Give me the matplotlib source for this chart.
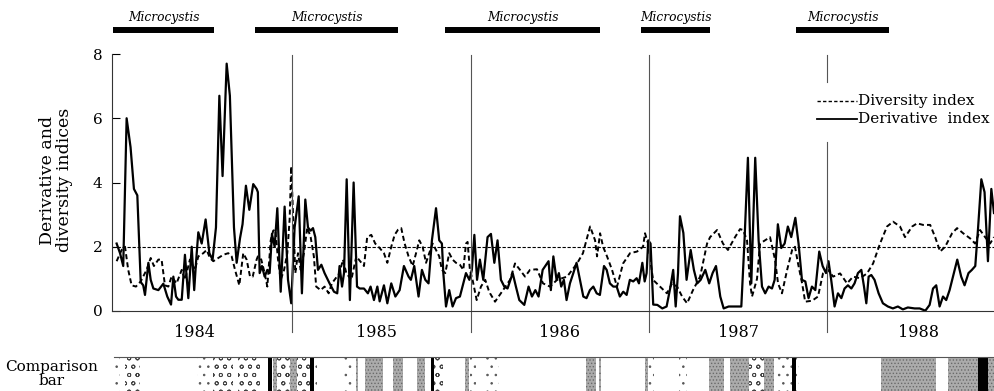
import matplotlib.pyplot as plt

plt.rcParams['font.family'] = ['DejaVu Serif']
plt.rcParams['hatch.linewidth'] = 0.6

# derivative index (solid line), sampling dates as decimal years
deriv_t = [
    1984.015, 1984.034, 1984.052, 1984.071, 1984.093, 1984.112, 1984.131, 1984.150, 1984.164, 1984.174,
    1984.193, 1984.206, 1984.221, 1984.249, 1984.277, 1984.299, 1984.320, 1984.333, 1984.348, 1984.361,
    1984.380, 1984.398, 1984.417, 1984.436, 1984.450, 1984.460, 1984.473, 1984.492, 1984.514, 1984.535,
    1984.553, 1984.572, 1984.591, 1984.609, 1984.632, 1984.650, 1984.673, 1984.688, 1984.707, 1984.721,
    1984.740, 1984.759, 1984.781, 1984.800,
    1984.807, 1984.817, 1984.830, 1984.845, 1984.860, 1984.873, 1984.886, 1984.901, 1984.916, 1984.935,
    1984.957, 1984.976, 1984.994, 1985.013, 1985.036, 1985.054, 1985.073, 1985.088, 1985.103, 1985.116,
    1985.129, 1985.144, 1985.163, 1985.181, 1985.209, 1985.234, 1985.252, 1985.265, 1985.279, 1985.290,
    1985.305, 1985.323, 1985.344, 1985.363, 1985.378, 1985.402, 1985.424, 1985.439, 1985.458, 1985.477,
    1985.490, 1985.514, 1985.533, 1985.555, 1985.578, 1985.602, 1985.626,
    1985.652, 1985.665, 1985.684, 1985.708, 1985.727, 1985.746, 1985.764, 1985.783, 1985.806, 1985.824,
    1985.839, 1985.847, 1985.862, 1985.880, 1985.899, 1985.918, 1985.940, 1985.959, 1985.974, 1985.993,
    1986.007, 1986.021, 1986.036, 1986.052, 1986.071, 1986.095, 1986.114, 1986.133, 1986.151, 1986.170,
    1986.189, 1986.207, 1986.236, 1986.254, 1986.273, 1986.301, 1986.325, 1986.344, 1986.363, 1986.381,
    1986.404, 1986.419, 1986.437, 1986.450, 1986.464,
    1986.482, 1986.495, 1986.508, 1986.523, 1986.538, 1986.557, 1986.576, 1986.594, 1986.613, 1986.632,
    1986.650, 1986.669, 1986.688, 1986.707, 1986.725, 1986.748, 1986.763, 1986.781, 1986.800, 1986.819,
    1986.837, 1986.856, 1986.875, 1986.893, 1986.912, 1986.931, 1986.944, 1986.963, 1986.976, 1986.987,
    1986.996, 1987.009, 1987.024, 1987.047, 1987.075, 1987.099, 1987.121, 1987.136, 1987.150, 1987.163,
    1987.174, 1987.193, 1987.211, 1987.234, 1987.252, 1987.271, 1987.290,
    1987.316, 1987.338, 1987.357, 1987.376, 1987.400, 1987.419, 1987.447, 1987.484, 1987.518, 1987.536,
    1987.555, 1987.574, 1987.596, 1987.615, 1987.634, 1987.652, 1987.671, 1987.690, 1987.705, 1987.723,
    1987.742, 1987.761, 1987.779, 1987.798, 1987.821, 1987.839, 1987.858, 1987.877, 1987.895, 1987.914,
    1987.933, 1987.955, 1987.974, 1987.993, 1988.007, 1988.022, 1988.041, 1988.060, 1988.079, 1988.097,
    1988.116,
    1988.135, 1988.153, 1988.172, 1988.191, 1988.206, 1988.219, 1988.232, 1988.247, 1988.265, 1988.288,
    1988.312, 1988.340, 1988.368, 1988.396, 1988.424, 1988.452, 1988.490, 1988.518, 1988.550, 1988.574,
    1988.593, 1988.611, 1988.630, 1988.649, 1988.667, 1988.686, 1988.710, 1988.729, 1988.751, 1988.770,
    1988.792, 1988.811, 1988.830, 1988.845, 1988.864, 1988.882, 1988.901, 1988.920, 1988.935,
]
deriv_v = [
    2.1, 1.8, 1.4, 6.0, 5.1, 3.8, 3.6, 0.9, 0.8, 0.5,
    1.5, 0.97, 0.7, 0.65, 0.85, 0.45, 0.2, 1.07, 0.45, 0.35,
    0.35, 1.75, 0.4, 2.0, 0.65, 1.5, 2.45, 2.1, 2.85, 1.8,
    1.6, 2.6, 6.7, 4.2, 7.7, 6.7, 2.6, 1.5, 2.27, 2.7,
    3.9, 3.15, 3.95, 3.8,
    3.7, 1.18, 1.4, 1.07, 1.28, 1.18, 2.4, 2.0, 3.2, 0.6,
    3.25, 0.97, 0.24, 2.6, 3.57, 0.55, 3.47, 2.6, 2.5, 2.58,
    2.3, 1.28, 1.44, 1.18, 0.86, 0.6, 0.55, 1.4, 0.76, 1.18,
    4.1, 0.34, 4.0, 0.76, 0.7, 0.7, 0.55, 0.76, 0.34, 0.76,
    0.3, 0.8, 0.24, 0.86, 0.45, 0.65, 1.4,
    1.07, 0.97, 1.4, 0.45, 1.28, 0.97, 0.86, 2.2, 3.2, 2.2,
    2.1, 1.18, 0.14, 0.65, 0.14, 0.4, 0.45, 0.86, 1.18, 0.97,
    1.28, 2.37, 0.97, 1.6, 0.97, 2.3, 2.4, 1.5, 2.2, 0.97,
    0.76, 0.7, 1.18, 0.76, 0.34, 0.19, 0.76, 0.45, 0.65, 0.45,
    1.28, 1.4, 1.55, 0.65, 1.7,
    0.97, 1.18, 0.76, 0.97, 0.34, 0.86, 1.18, 1.5, 0.97, 0.45,
    0.4, 0.65, 0.76, 0.55, 0.5, 1.4, 1.28, 0.86, 0.76, 0.76,
    0.45, 0.6, 0.5, 0.97, 0.92, 1.02, 0.86, 1.5, 0.92, 1.18,
    2.2, 2.1, 0.2, 0.19, 0.08, 0.14, 0.76, 1.28, 0.14, 1.18,
    2.95, 2.43, 0.97, 1.9, 1.28, 0.86, 0.97,
    1.28, 0.86, 1.18, 1.4, 0.45, 0.08, 0.14, 0.14, 0.14, 2.2,
    4.77, 0.86, 4.77, 2.2, 0.76, 0.55, 0.76, 0.7, 0.97, 2.7,
    1.96, 2.1, 2.63, 2.3, 2.9, 2.1, 0.97, 0.92, 0.4, 0.76,
    0.65, 1.85, 1.4, 1.18, 1.55, 0.97, 0.14, 0.55, 0.4, 0.7,
    0.8,
    0.7, 0.86, 1.18, 1.28, 0.76, 0.24, 1.07, 1.12, 0.97, 0.55,
    0.24, 0.14, 0.08, 0.14, 0.05, 0.11, 0.08, 0.08, 0.01, 0.19,
    0.7, 0.8, 0.14, 0.45, 0.34, 0.65, 1.18, 1.6, 1.07, 0.8,
    1.18, 1.28, 1.4, 2.53, 4.1, 3.7, 1.55, 3.8, 3.05,
]

# diversity index (dashed line)
div_t = [
    1984.015, 1984.043, 1984.062, 1984.080, 1984.099, 1984.123, 1984.150, 1984.183, 1984.206, 1984.224,
    1984.249, 1984.267, 1984.286, 1984.305, 1984.323, 1984.351, 1984.380, 1984.398, 1984.426, 1984.454,
    1984.473, 1984.501, 1984.520, 1984.538, 1984.557, 1984.585, 1984.613, 1984.641, 1984.660, 1984.679,
    1984.703, 1984.725, 1984.744, 1984.763, 1984.778, 1984.800,
    1984.807, 1984.826, 1984.845, 1984.860, 1984.879, 1984.893, 1984.905, 1984.920, 1984.935, 1984.954,
    1984.972, 1984.985, 1984.994, 1985.004, 1985.017, 1985.032, 1985.047, 1985.065, 1985.084, 1985.103,
    1985.121, 1985.134, 1985.159, 1985.181, 1985.204, 1985.222, 1985.265, 1985.284, 1985.303, 1985.331,
    1985.359, 1985.402, 1985.420, 1985.443, 1985.465, 1985.490, 1985.514, 1985.533, 1985.555, 1985.574,
    1985.593, 1985.611, 1985.630, 1985.652,
    1985.675, 1985.694, 1985.712, 1985.731, 1985.750, 1985.768, 1985.787, 1985.806, 1985.824, 1985.839,
    1985.858, 1985.880, 1985.899, 1985.918, 1985.940, 1985.959, 1985.974, 1985.983, 1985.996, 1986.011,
    1986.034, 1986.058, 1986.082, 1986.101,
    1986.109, 1986.137, 1986.182, 1986.221, 1986.249, 1986.277, 1986.305, 1986.333, 1986.372, 1986.406,
    1986.445, 1986.485, 1986.541, 1986.597, 1986.630, 1986.670, 1986.698, 1986.709, 1986.726, 1986.743,
    1986.765, 1986.793, 1986.821, 1986.855, 1986.894, 1986.933, 1986.967, 1986.978, 1986.995, 1987.023,
    1987.062, 1987.101, 1987.130, 1987.158, 1987.186, 1987.214, 1987.247, 1987.287, 1987.326, 1987.343,
    1987.382, 1987.415, 1987.443, 1987.483, 1987.511, 1987.528, 1987.550, 1987.567, 1987.578, 1987.606,
    1987.623, 1987.651, 1987.679, 1987.707, 1987.724, 1987.746, 1987.775, 1987.803, 1987.819, 1987.836,
    1987.859, 1987.876, 1987.915, 1987.948, 1987.976, 1988.004, 1988.033, 1988.072, 1988.111, 1988.145,
    1988.184, 1988.223, 1988.257, 1988.296, 1988.335, 1988.369, 1988.408, 1988.436, 1988.476, 1988.504,
    1988.537, 1988.577, 1988.605, 1988.633, 1988.661, 1988.700, 1988.728, 1988.762, 1988.801, 1988.829,
    1988.857, 1988.885, 1988.913, 1988.935,
]
div_v = [
    1.55, 1.9, 2.0, 1.28, 0.8, 0.76, 0.92, 1.28, 1.65, 1.4,
    1.6, 1.6, 0.8, 0.76, 1.07, 0.86, 1.28, 0.97, 1.6, 1.28,
    1.7, 1.8, 1.9, 1.65, 1.55, 1.65, 1.75, 1.8, 1.7, 1.28,
    0.8, 1.8, 1.6, 1.07, 1.07, 1.6,
    1.7, 1.6, 1.18, 0.76, 2.2, 2.5, 2.53, 1.6, 0.97, 1.28,
    1.8, 2.85, 4.5, 3.05, 1.18, 1.8, 1.28, 1.8, 2.6, 2.3,
    1.7, 0.76, 0.65, 0.76, 0.55, 0.86, 1.18, 1.6, 1.18, 0.97,
    1.7, 1.4, 2.3, 2.37, 2.1, 1.96, 1.8, 1.5, 2.0, 2.37,
    2.53, 2.58, 2.1, 1.7,
    1.4, 1.8, 2.2, 2.0, 1.5, 1.8, 2.1, 1.9, 1.7, 1.28,
    1.18, 1.8, 1.6, 1.5, 1.44, 1.28, 2.1, 2.15, 1.28, 0.97,
    0.34, 0.76, 0.97, 0.65,
    0.55, 0.29, 0.65, 0.97, 1.48, 1.28, 1.07, 1.28, 1.3, 0.86,
    0.76, 0.97, 1.07, 1.48, 1.8, 2.63, 2.2, 1.7, 2.42, 2.0,
    1.7, 1.28, 0.76, 1.48, 1.8, 1.85, 2.0, 2.42, 2.1, 0.97,
    0.76, 0.55, 0.86, 0.76, 0.45, 0.24, 0.65, 1.07, 2.1, 2.3,
    2.52, 2.1, 1.9, 2.3, 2.55, 2.52, 2.2, 0.86, 0.45, 1.0,
    2.1, 2.2, 2.3, 1.6, 0.86, 0.55, 1.28, 1.9, 2.0, 1.48,
    0.86, 0.29, 0.32, 0.45, 1.17, 1.28, 1.07, 1.17, 0.86, 1.07,
    1.02, 1.17, 1.48, 2.1, 2.63, 2.78, 2.63, 2.3, 2.63, 2.73,
    2.68, 2.68, 2.3, 1.85, 2.0, 2.42, 2.58, 2.42, 2.26, 2.1,
    2.52, 2.3, 2.1, 2.3,
]

year_labels = ['1984', '1985', '1986', '1987', '1988']
year_mid = [1984.45, 1985.47, 1986.5, 1987.5, 1988.51]
year_breaks = [1985, 1986, 1987, 1988]

# periods of Microcystis dominance
bloom_start = [1983.994, 1984.791, 1985.856, 1986.956, 1987.825]
bloom_end = [1984.561, 1985.593, 1986.726, 1987.343, 1988.347]

# comparison bar: (start, end, pattern)
comparison = [
    (1984.006, 1984.034, 'dots'), (1984.062, 1984.146, 'squares'),
    (1984.466, 1984.538, 'dots'), (1984.555, 1984.667, 'squares'),
    (1984.695, 1984.819, 'squares'), (1984.864, 1984.886, 'black'),
    (1984.892, 1984.914, 'gray'), (1984.914, 1984.987, 'squares'),
    (1984.987, 1985.026, 'gray'), (1985.026, 1985.099, 'squares'),
    (1985.099, 1985.122, 'black'), (1985.122, 1985.139, 'dots'),
    (1985.284, 1985.340, 'dots'), (1985.357, 1985.368, 'gray'),
    (1985.408, 1985.509, 'gray'), (1985.565, 1985.621, 'gray'),
    (1985.699, 1985.744, 'gray'), (1985.778, 1985.795, 'black'),
    (1985.795, 1985.845, 'squares'), (1985.969, 1985.991, 'gray'),
    (1985.997, 1986.030, 'dots'), (1986.086, 1986.159, 'dots'),
    (1986.647, 1986.703, 'gray'), (1986.720, 1986.731, 'gray'),
    (1986.978, 1986.995, 'gray'), (1986.995, 1987.029, 'dots'),
    (1987.169, 1987.214, 'dots'), (1987.337, 1987.421, 'gray'),
    (1987.455, 1987.561, 'gray'), (1987.561, 1987.645, 'squares'),
    (1987.645, 1987.702, 'gray'), (1987.718, 1987.803, 'dots'),
    (1987.803, 1987.825, 'black'), (1987.825, 1987.842, 'dots'),
    (1988.302, 1988.610, 'gray'), (1988.678, 1988.846, 'gray'),
    (1988.846, 1988.902, 'black'), (1988.902, 1988.969, 'gray'),
]

W, H = 994, 391
fig = plt.figure(figsize=(W / 100, H / 100), dpi=100)
ax = fig.add_axes([112 / W, 80 / H, 882 / W, 257 / H])
x0, x1 = 1983.989, 1988.935
ax.set_xlim(x0, x1)
ax.set_ylim(0, 8)

ax.plot(div_t, div_v, color='black', lw=1.4, dashes=(2.6, 1.6))
ax.plot(deriv_t, deriv_v, color='black', lw=1.6)
ax.axhline(2, color='black', lw=0.8, dashes=(3, 1.5))

# year boundaries, running below the axis
for yr in year_breaks:
    if yr == 1988:
        ax.plot([yr, yr], [-0.65, 5.26], color='#555', lw=0.8, clip_on=False)
        ax.plot([yr, yr], [7.13, 7.97], color='#555', lw=0.8, clip_on=False)
    else:
        ax.plot([yr, yr], [-0.65, 7.97], color='#555', lw=0.8, clip_on=False)

for lab, xm in zip(year_labels, year_mid):
    ax.text(xm, -0.68, lab, ha='center', va='center', fontsize=11.5)

for a, b in zip(bloom_start, bloom_end):
    ax.plot([a, b], [8.75, 8.75], color='black', lw=4.3, solid_capstyle='butt', clip_on=False)
    ax.text((a + b) / 2, 9.14, 'Microcystis', ha='center', va='center',
            fontsize=8.8, style='italic')

# legend drawn by hand
ax.plot([1987.943, 1988.165], [6.54, 6.54], color='black', lw=1.0, dashes=(2.4, 1.6), clip_on=False)
ax.plot([1987.943, 1988.165], [5.98, 5.98], color='black', lw=1.3, clip_on=False)
ax.text(1988.175, 6.54, 'Diversity index', va='center', fontsize=11)
ax.text(1988.175, 5.98, 'Derivative  index', va='center', fontsize=11)

for s in ['top', 'right']:
    ax.spines[s].set_visible(False)
for s in ['left', 'bottom']:
    ax.spines[s].set_linewidth(0.8)
    ax.spines[s].set_color('#333')
ax.set_yticks([0, 2, 4, 6, 8])
ax.tick_params(axis='y', direction='in', length=6, width=0.8, labelsize=11, pad=7)
ax.tick_params(axis='x', length=0, labelbottom=False)

fig.text(56 / W, 1 - 180 / H, 'Derivative and\ndiversity indices', rotation=90,
         ha='center', va='center', fontsize=12.5, linespacing=1.0)

# comparison bar
cb = fig.add_axes([112 / W, 0, 882 / W, 34 / H])
cb.set_xlim(x0, x1)
cb.set_ylim(0, 1)
for s in ['left', 'right', 'bottom']:
    cb.spines[s].set_visible(False)
cb.spines['top'].set_linewidth(0.8)
cb.spines['top'].set_color('#555')
cb.spines['top'].set_bounds(1984.0, x1)
cb.set_xticks([])
cb.set_yticks([])
styles = {
    'black': dict(facecolor='black', edgecolor='black', hatch=None),
    'gray': dict(facecolor='#ababab', edgecolor='#6a6a6a', hatch='.....'),
    'squares': dict(facecolor='white', edgecolor='#444', hatch='oo'),
    'dots': dict(facecolor='white', edgecolor='#555', hatch='..'),
}
for a, b, kind in comparison:
    st = styles[kind]
    cb.fill_between([a, b], 0, 1, facecolor=st['facecolor'], edgecolor=st['edgecolor'],
                    hatch=st['hatch'], linewidth=0)

fig.text(52 / W, 1 - 374 / H, 'Comparison\nbar', ha='center', va='center',
         fontsize=11, linespacing=1.05)

fig.savefig('out.png', dpi=100)
